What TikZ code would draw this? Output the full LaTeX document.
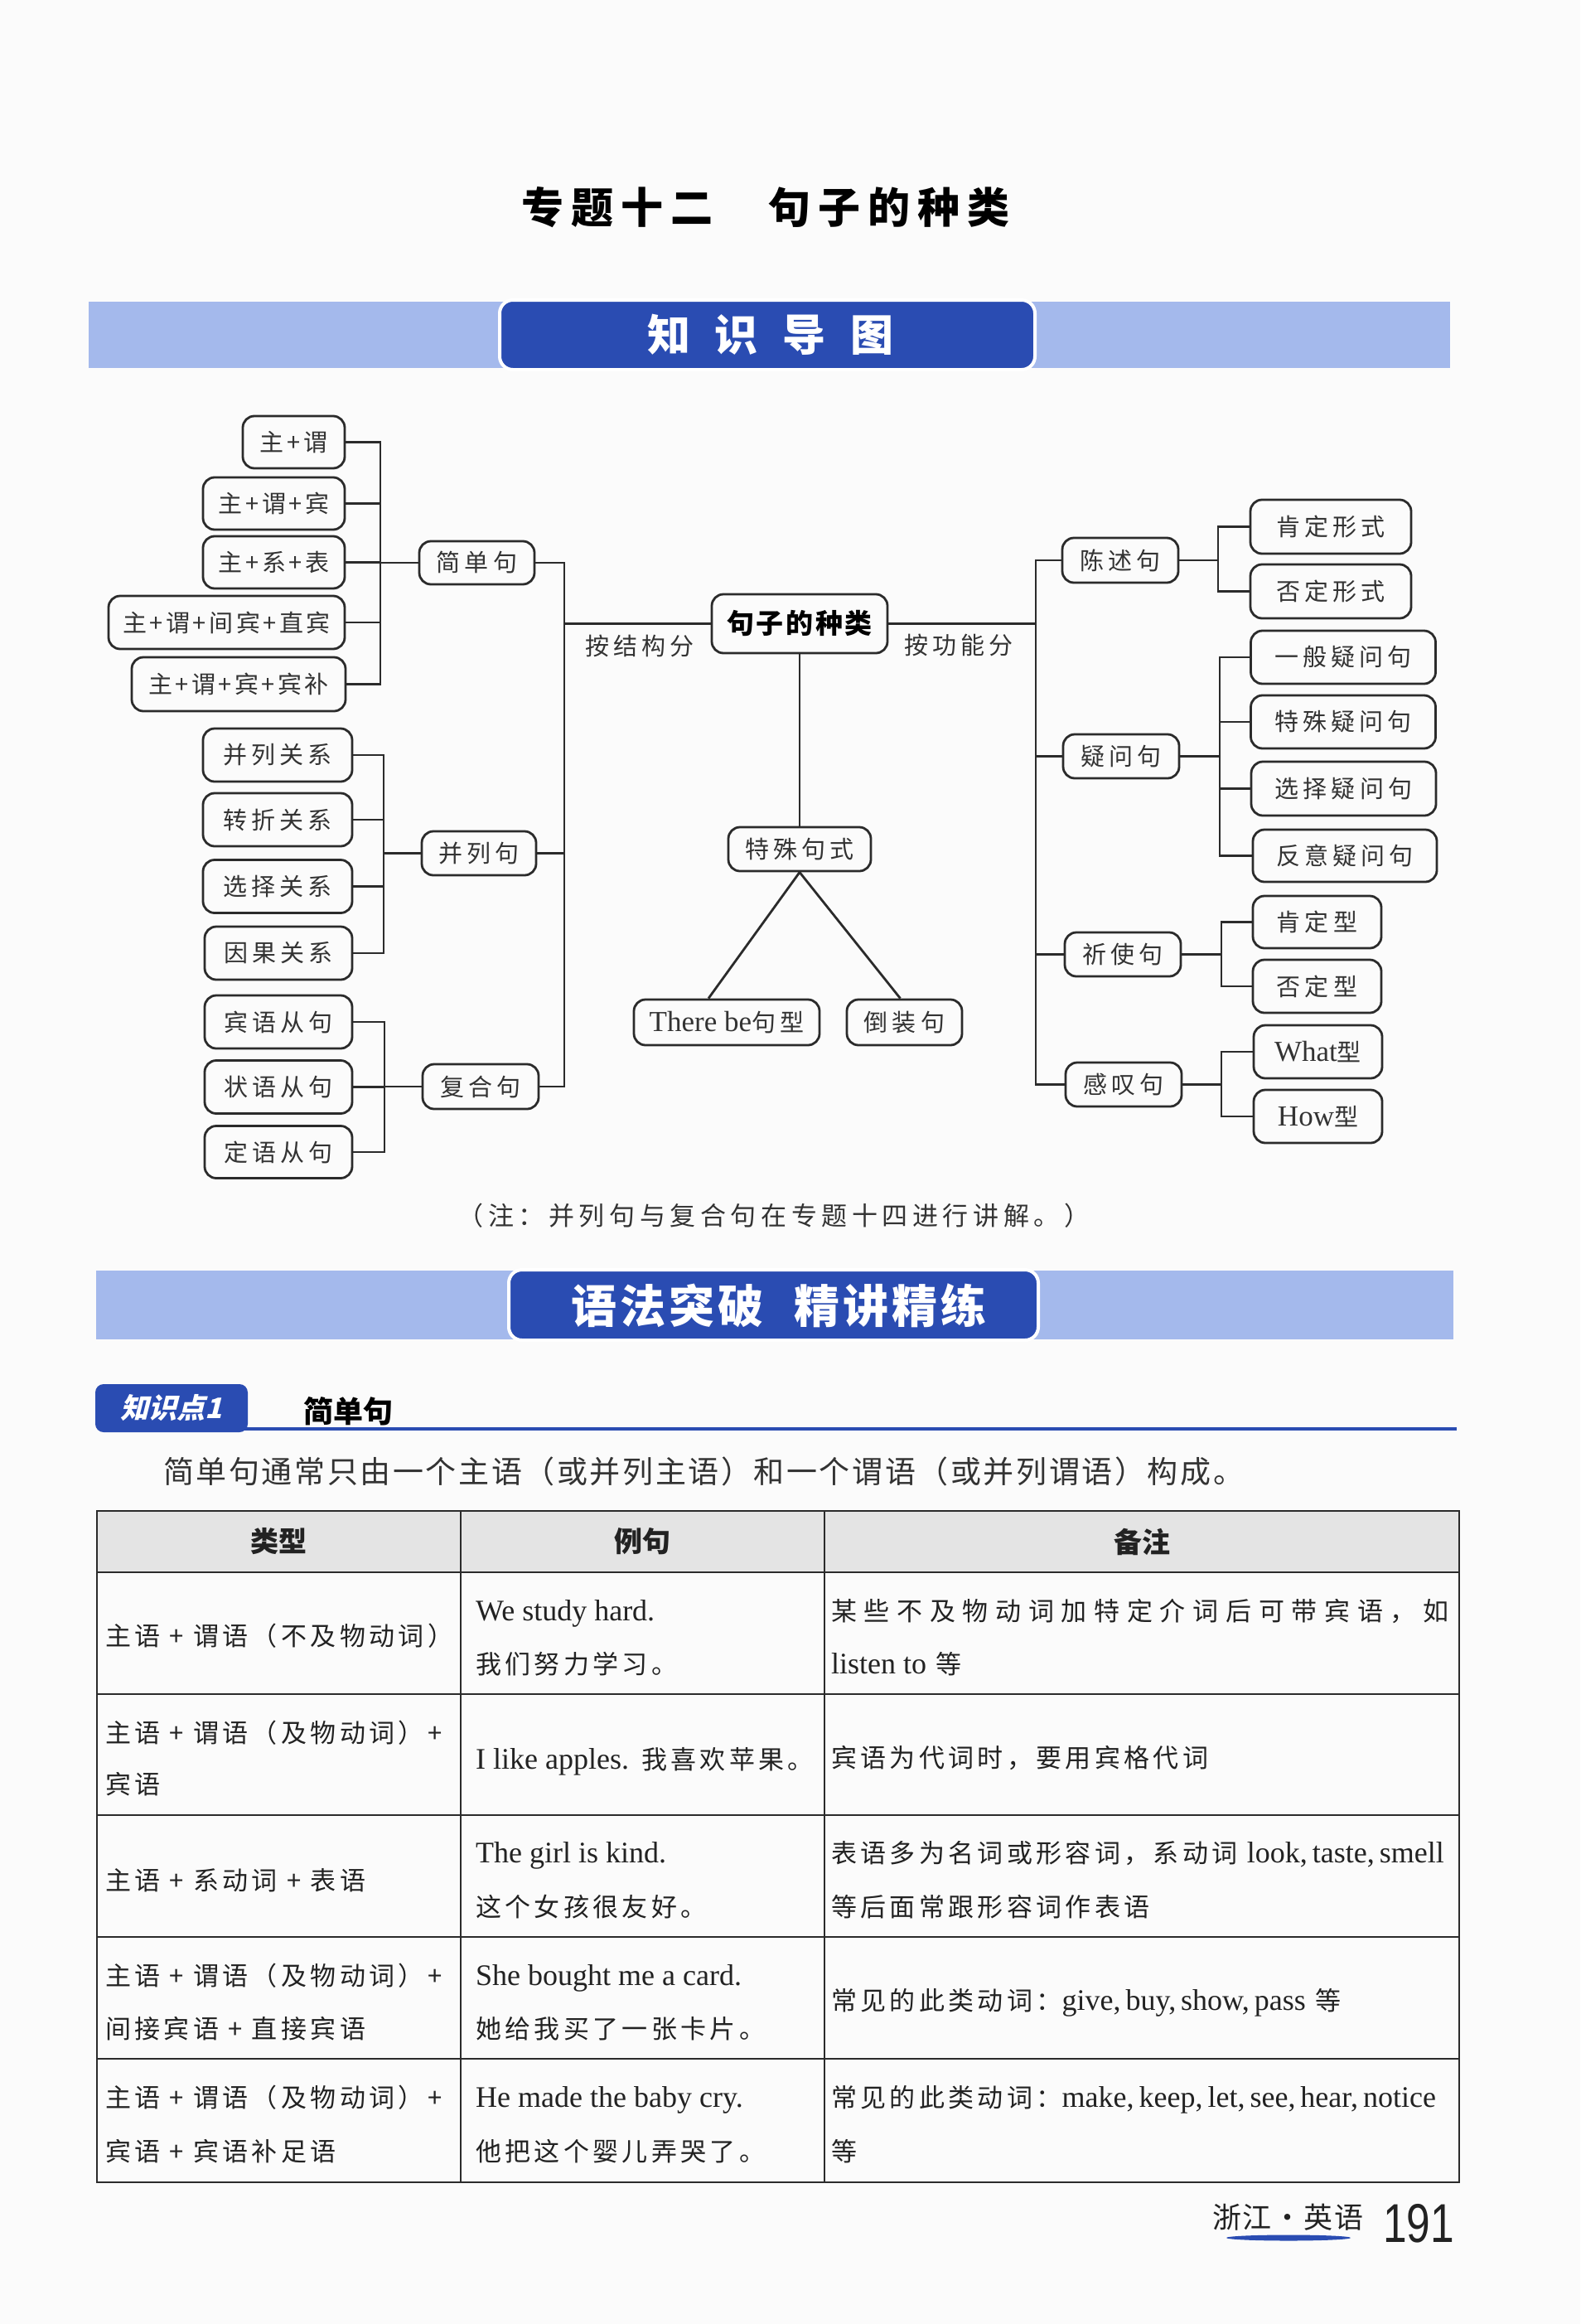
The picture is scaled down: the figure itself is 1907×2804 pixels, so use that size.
\documentclass[tikz,border=0pt]{standalone}
\usepackage{fontspec}
\usepackage{graphicx}
\setmainfont{Liberation Serif}
\newfontfamily\cjk{Noto Sans CJK SC}
\newfontfamily\cjkbox[LetterSpace=18]{Noto Sans CJK SC}
\newfontfamily\cjkplus[LetterSpace=12]{Noto Sans CJK SC}
\newfontfamily\cjkroot[LetterSpace=8]{Noto Sans CJK SC}
\newfontfamily\cjktab[LetterSpace=14]{Noto Sans CJK SC}
\newfontfamily\cjkwide[LetterSpace=28]{Noto Sans CJK SC}
\newfontfamily\cjknote[LetterSpace=18]{Noto Sans CJK SC}
\newfontfamily\cjkintro[LetterSpace=7]{Noto Sans CJK SC}
\newfontfamily\cjkfoot[LetterSpace=5]{Noto Sans CJK SC}
\newfontfamily\cjkslant[FakeSlant=0.25]{Noto Sans CJK SC}
\newfontfamily\sansdigits{Liberation Sans}
\newcommand\fBox{\fontsize{29pt}{34pt}\selectfont\cjkbox}
\newcommand\fPlus{\fontsize{29pt}{34pt}\selectfont\cjkplus}
\newcommand\fEnBox{\fontsize{35pt}{40pt}\selectfont\rmfamily}
\newcommand\fRoot{\fontsize{33pt}{38pt}\selectfont\cjkroot\bfseries}
\newcommand\fTab{\fontsize{31pt}{36pt}\selectfont\cjktab}
\newcommand\fTabWide{\fontsize{31pt}{36pt}\selectfont\cjkwide}
\newcommand\fEn{\fontsize{36pt}{40pt}\selectfont\rmfamily}
\newcommand\fHead{\fontsize{34pt}{38pt}\selectfont\cjk\bfseries}
\newcommand\fNote{\fontsize{31pt}{36pt}\selectfont\cjknote}
\newcommand\fIntro{\fontsize{37pt}{42pt}\selectfont\cjkintro}
\definecolor{lineC}{HTML}{2B2B2B}
\definecolor{txtC}{HTML}{333333}
\definecolor{tabC}{HTML}{222222}
\definecolor{lightB}{HTML}{A4B9EC}
\definecolor{darkB}{HTML}{2A4CB2}
\definecolor{headG}{HTML}{E4E4E4}
\definecolor{pageC}{HTML}{FBFBFB}
\tikzset{
  bnode/.style={draw=lineC, line width=2.8pt, rounded corners=14pt, inner sep=0pt, text=txtC, font=\fBox},
  pnode/.style={bnode, font=\fPlus},
  conn/.style={draw=lineC, line width=2.8pt},
  lbl/.style={inner sep=0pt, text=txtC, font=\fBox},
  cell/.style={anchor=west, inner sep=0pt, text=tabC, font=\fTab, text height=31pt, text depth=7pt},
  head/.style={inner sep=0pt, text=tabC, font=\fHead},
  tline/.style={draw=lineC, line width=2.6pt},
  vline/.style={draw=lineC, line width=1.5pt}
}
\begin{document}
\begin{tikzpicture}[x=1pt,y=-1pt]
\fill[pageC] (0,0) rectangle (1907,2804);
\useasboundingbox (0,0) rectangle (1907,2804);

% title
\node[inner sep=0pt, font=\fontsize{51pt}{56pt}\selectfont\cjk\bfseries] (title) at (924,250)
  {专\hspace{9pt}题\hspace{9pt}十\hspace{9pt}二\hspace{67pt}句\hspace{9pt}子\hspace{9pt}的\hspace{9pt}种\hspace{9pt}类};

% banner 1
\fill[lightB] (107,364) rectangle (1750,444);
\draw[fill=darkB, draw=white, line width=4pt, rounded corners=16pt] (603,362) rectangle (1249,446);
\node[inner sep=0pt, text=white, font=\fontsize{52pt}{56pt}\selectfont\cjk\bfseries] (ban1) at (930,404)
  {知\hspace{30pt}识\hspace{30pt}导\hspace{30pt}图};

% ---------- mind map ----------
\node[bnode, font=\fRoot, text=black, minimum width=212pt, minimum height=71pt] (root) at (965,752.5) {句子的种类};
\node[lbl] (lab1) at (772,779) {按结构分};
\node[lbl] (lab2) at (1157,778) {按功能分};

% simple sentences
\node[pnode, minimum width=123pt, minimum height=63pt] (s1) at (354.5,533.5) {主+谓};
\node[pnode, minimum width=171pt, minimum height=63pt] (s2) at (330.5,607.5) {主+谓+宾};
\node[pnode, minimum width=171pt, minimum height=63pt] (s3) at (330.5,678.5) {主+系+表};
\node[pnode, minimum width=285pt, minimum height=64pt] (s4) at (273.5,751) {主+谓+间宾+直宾};
\node[pnode, minimum width=258pt, minimum height=65pt] (s5) at (288,825.5) {主+谓+宾+宾补};
\node[bnode, minimum width=139pt, minimum height=52pt] (jd) at (575.5,679) {简单句};

% compound
\node[bnode, minimum width=180pt, minimum height=64pt] (c1) at (335,911) {并列关系};
\node[bnode, minimum width=180pt, minimum height=64pt] (c2) at (335,989) {转折关系};
\node[bnode, minimum width=180pt, minimum height=64pt] (c3) at (335,1069.5) {选择关系};
\node[bnode, minimum width=178pt, minimum height=64pt] (c4) at (336,1150) {因果关系};
\node[bnode, minimum width=138pt, minimum height=53pt] (bl) at (578,1029.5) {并列句};

% complex
\node[bnode, minimum width=178pt, minimum height=64pt] (f1) at (336,1233) {宾语从句};
\node[bnode, minimum width=178pt, minimum height=64pt] (f2) at (336,1311.5) {状语从句};
\node[bnode, minimum width=178pt, minimum height=63pt] (f3) at (336,1390) {定语从句};
\node[bnode, minimum width=140pt, minimum height=54pt] (fh) at (580,1311) {复合句};

% special
\node[bnode, minimum width=172pt, minimum height=53pt] (ts) at (965,1024.5) {特殊句式};
\node[bnode, minimum width=224pt, minimum height=55pt] (tb) at (877,1233.5) {{\fEnBox There be}句型};
\node[bnode, minimum width=139pt, minimum height=55pt] (dz) at (1091.5,1233.5) {倒装句};

% function
\node[bnode, minimum width=140pt, minimum height=54pt] (cs) at (1352,676) {陈述句};
\node[bnode, minimum width=140pt, minimum height=53pt] (yw) at (1353,912.5) {疑问句};
\node[bnode, minimum width=140pt, minimum height=53pt] (qs) at (1355,1151.5) {祈使句};
\node[bnode, minimum width=140pt, minimum height=53pt] (gt) at (1356,1308.5) {感叹句};

\node[bnode, minimum width=194pt, minimum height=65pt] (r1) at (1606,635.5) {肯定形式};
\node[bnode, minimum width=194pt, minimum height=65pt] (r2) at (1606,713.5) {否定形式};
\node[bnode, minimum width=223pt, minimum height=64pt] (r3) at (1621,793) {一般疑问句};
\node[bnode, minimum width=223pt, minimum height=64pt] (r4) at (1621,871) {特殊疑问句};
\node[bnode, minimum width=223pt, minimum height=65pt] (r5) at (1621.5,951.5) {选择疑问句};
\node[bnode, minimum width=222pt, minimum height=63pt] (r6) at (1623,1032.5) {反意疑问句};
\node[bnode, minimum width=155pt, minimum height=63pt] (r7) at (1589.5,1112.5) {肯定型};
\node[bnode, minimum width=155pt, minimum height=64pt] (r8) at (1589.5,1190) {否定型};
\node[bnode, minimum width=155pt, minimum height=64pt] (r9) at (1590.5,1269) {{\fEnBox What}型};
\node[bnode, minimum width=155pt, minimum height=64pt] (r10) at (1590.5,1347) {{\fEnBox How}型};

% connectors left
\coordinate (b1) at (459,679);
\draw[conn] (s1.east) -| (b1);
\draw[conn] (s5.east) -| (b1);
\draw[conn] (s2.east) -- (s2.east -| b1);
\draw[conn] (s3.east) -- (s3.east -| b1);
\draw[conn] (s4.east) -- (s4.east -| b1);
\draw[conn] (jd.west) -- (jd.west -| b1);

\coordinate (b2) at (463,1029.5);
\draw[conn] (c1.east) -| (b2);
\draw[conn] (c4.east) -| (b2);
\draw[conn] (c2.east) -- (c2.east -| b2);
\draw[conn] (c3.east) -- (c3.east -| b2);
\draw[conn] (bl.west) -- (bl.west -| b2);

\coordinate (b3) at (464,1311);
\draw[conn] (f1.east) -| (b3);
\draw[conn] (f3.east) -| (b3);
\draw[conn] (f2.east) -- (f2.east -| b3);
\draw[conn] (fh.west) -- (fh.west -| b3);

\coordinate (lt) at (681,752.5);
\draw[conn] (jd.east) -| (lt);
\draw[conn] (fh.east) -| (lt);
\draw[conn] (bl.east) -- (bl.east -| lt);
\draw[conn] (root.west) -- (root.west -| lt);

% connectors right
\coordinate (rt) at (1250,752.5);
\draw[conn] (cs.west) -| (rt);
\draw[conn] (gt.west) -| (rt);
\draw[conn] (yw.west) -- (yw.west -| rt);
\draw[conn] (qs.west) -- (qs.west -| rt);
\draw[conn] (root.east) -- (root.east -| rt);

\coordinate (rb1) at (1470,676);
\draw[conn] (r1.west) -| (rb1);
\draw[conn] (r2.west) -| (rb1);
\draw[conn] (cs.east) -- (rb1);

\coordinate (rb2) at (1472,912.5);
\draw[conn] (r3.west) -| (rb2);
\draw[conn] (r6.west) -| (rb2);
\draw[conn] (r4.west) -- (r4.west -| rb2);
\draw[conn] (r5.west) -- (r5.west -| rb2);
\draw[conn] (yw.east) -- (rb2);

\coordinate (rb3) at (1474,1151.5);
\draw[conn] (r7.west) -| (rb3);
\draw[conn] (r8.west) -| (rb3);
\draw[conn] (qs.east) -- (rb3);

\coordinate (rb4) at (1474,1308.5);
\draw[conn] (r9.west) -| (rb4);
\draw[conn] (r10.west) -| (rb4);
\draw[conn] (gt.east) -- (rb4);

% special
\draw[conn] (root.south) -- (ts.north);
\draw[conn] (ts.south) -- ([xshift=-22pt]tb.north);
\draw[conn] (ts.south) -- ([xshift=-5pt]dz.north);

% note
\node[inner sep=0pt, text=txtC, font=\fNote] (note) at (934,1467) {（注：并列句与复合句在专题十四进行讲解。）};

% banner 2
\fill[lightB] (116,1533) rectangle (1754,1616);
\draw[fill=darkB, draw=white, line width=4pt, rounded corners=16pt] (614,1532) rectangle (1253,1617);
\node[inner sep=0pt, text=white, font=\fontsize{55pt}{60pt}\selectfont\cjk\bfseries] (ban2) at (940,1575)
  {语\hspace{4pt}法\hspace{4pt}突\hspace{4pt}破\hspace{37pt}精\hspace{4pt}讲\hspace{4pt}精\hspace{4pt}练};

% knowledge point
\draw[draw=darkB, line width=3.5pt] (200,1724) -- (1758,1724);
\node[fill=darkB, rounded corners=10pt, minimum width=184pt, minimum height=58pt, inner sep=0pt,
      text=white, font=\fontsize{34pt}{38pt}\selectfont\cjkslant\bfseries] (kp) at (207,1699) {知识点1};
\node[inner sep=0pt, text=black, font=\fontsize{36pt}{40pt}\selectfont\cjk\bfseries] (kpt) at (420,1703) {简单句};

\node[anchor=west, inner sep=0pt, text=txtC, font=\fIntro] (intro) at (197,1775)
  {简单句通常只由一个主语（或并列主语）和一个谓语（或并列谓语）构成。};

% table
\fill[headG] (117,1823) rectangle (1761,1897);
\draw[vline] (556,1823) -- (556,2633);
\draw[vline] (995,1823) -- (995,2633);
\foreach \yy in {1897,2044,2190,2337,2484} \draw[tline] (117,\yy) -- (1761,\yy);
\draw[tline] (117,1823) rectangle (1761,2633);

\node[head] (h1) at (336,1860) {类型};
\node[head] (h2) at (775,1860) {例句};
\node[head] (h3) at (1378,1860) {备注};

\node[cell] (t11) at (127,1973) {主语 + 谓语（不及物动词）};
\node[cell] (t12a) at (574,1943) {{\fEn We study hard.}};
\node[cell] (t12b) at (574,2007) {我们努力学习。};
\node[cell, font=\fTabWide] (t13a) at (1003,1943) {某些不及物动词加特定介词后可带宾语，如};
\node[cell] (t13b) at (1003,2007) {{\fEn listen to} 等};

\node[cell] (t21a) at (127,2090) {主语 + 谓语（及物动词）+};
\node[cell] (t21b) at (127,2152) {宾语};
\node[cell] (t22) at (574,2122) {{\fEn I like apples.} 我喜欢苹果。};
\node[cell] (t23) at (1003,2120) {宾语为代词时，要用宾格代词};

\node[cell] (t31) at (127,2268) {主语 + 系动词 + 表语};
\node[cell] (t32a) at (574,2235) {{\fEn The girl is kind.}};
\node[cell] (t32b) at (574,2300) {这个女孩很友好。};
\node[cell] (t33a) at (1003,2235) {表语多为名词或形容词，系动词 {\fEn look,\,taste,\,smell}};
\node[cell] (t33b) at (1003,2300) {等后面常跟形容词作表语};

\node[cell] (t41a) at (127,2383) {主语 + 谓语（及物动词）+};
\node[cell] (t41b) at (127,2447) {间接宾语 + 直接宾语};
\node[cell] (t42a) at (574,2383) {{\fEn She bought me a card.}};
\node[cell] (t42b) at (574,2447) {她给我买了一张卡片。};
\node[cell] (t43) at (1003,2413) {常见的此类动词：{\fEn give,\,buy,\,show,\,pass} 等};

\node[cell] (t51a) at (127,2530) {主语 + 谓语（及物动词）+};
\node[cell] (t51b) at (127,2595) {宾语 + 宾语补足语};
\node[cell] (t52a) at (574,2530) {{\fEn He made the baby cry.}};
\node[cell] (t52b) at (574,2595) {他把这个婴儿弄哭了。};
\node[cell] (t53a) at (1003,2530) {常见的此类动词：{\fEn make,\,keep,\,let,\,see,\,hear,\,notice}};
\node[cell] (t53b) at (1003,2595) {等};

% footer
\node[inner sep=0pt, text=tabC, font=\fontsize{35pt}{40pt}\selectfont\cjkfoot] (foot) at (1554,2675) {浙江·英语};
\fill[darkB] (1555,2700) ellipse [x radius=75, y radius=3.5];
\node[anchor=base, inner sep=0pt, text=tabC] (pg) at (1712,2705)
  {\scalebox{0.78}[1]{\fontsize{66pt}{70pt}\selectfont\sansdigits 191}};
\end{tikzpicture}
\end{document}
